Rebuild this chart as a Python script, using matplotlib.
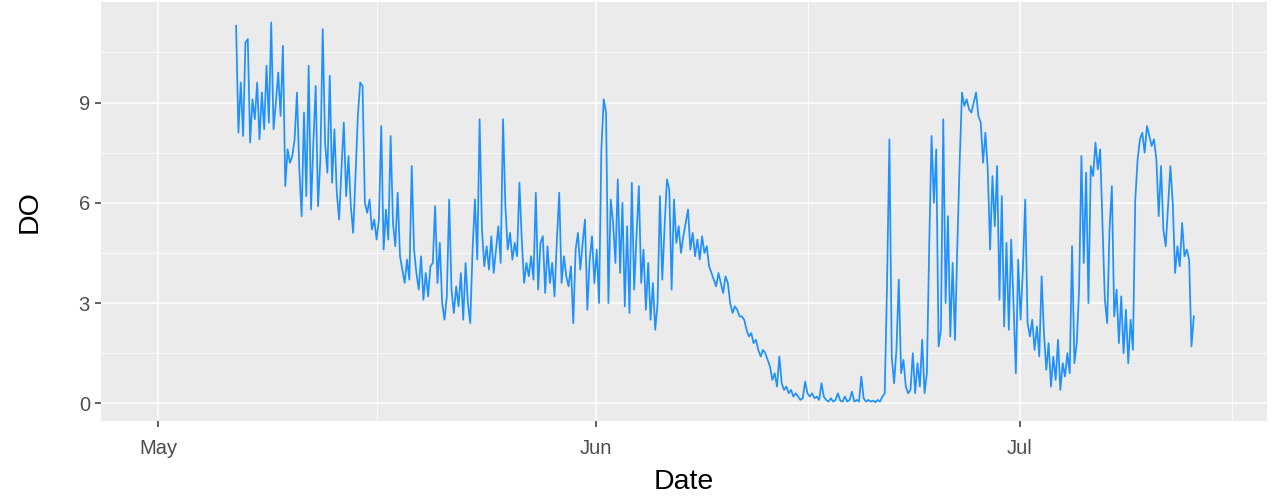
import numpy as np
import pandas as pd
import matplotlib
matplotlib.use("Agg")
import matplotlib.pyplot as plt
import matplotlib.dates as mdates

# time span of the logger record
start_time = "2019-05-06 12:30"
end_time = "2019-07-13 07:40"

# dissolved oxygen readings (about 6 per day)
do_values = [
    11.3, 8.1, 9.6, 8.0, 10.8, 10.9,
    7.8, 9.1, 8.5, 9.6, 7.9, 9.3,
    8.2, 10.1, 8.4, 11.4, 8.2, 9.0,
    9.9, 8.6, 10.7, 6.5, 7.6, 7.2,
    7.4, 7.9, 9.3, 7.0, 5.6, 8.7,
    6.2, 10.1, 5.8, 7.8, 9.5, 5.9,
    7.3, 11.2, 7.8, 6.9, 9.8, 6.6,
    8.2, 6.3, 5.5, 7.0, 8.4, 6.2,
    7.4, 5.9, 5.1, 6.8, 8.6, 9.6,
    9.5, 6.0, 5.7, 6.1, 5.2, 5.5,
    4.9, 5.5, 8.3, 4.6, 5.8, 4.9,
    8.0, 5.4, 4.7, 6.3, 4.4, 4.0,
    3.6, 4.3, 3.7, 7.1, 4.6, 3.9,
    3.4, 4.4, 3.1, 3.9, 3.2, 4.1,
    4.2, 5.9, 3.6, 4.8, 3.0, 2.5,
    3.2, 6.1, 3.4, 2.7, 3.5, 2.9,
    3.9, 2.5, 4.2, 3.0, 2.4, 4.6,
    6.1, 4.3, 8.5, 5.2, 4.1, 4.7,
    4.0, 5.0, 3.9, 4.6, 5.3, 4.2,
    8.5, 5.9, 4.6, 5.1, 4.3, 4.8,
    4.4, 6.6, 4.9, 3.6, 4.2, 3.8,
    4.4, 3.7, 6.3, 3.4, 4.8, 5.0,
    3.3, 4.7, 3.6, 4.2, 3.2, 4.9,
    6.3, 3.6, 4.4, 3.8, 3.5, 4.1,
    2.4, 4.6, 5.1, 4.0, 4.8, 5.5,
    2.8, 4.3, 5.0, 3.6, 4.6, 3.0,
    7.6, 9.1, 8.7, 3.0, 6.1, 5.4,
    4.2, 6.7, 3.9, 6.0, 2.9, 5.3,
    2.7, 6.6, 3.4, 5.0, 6.5, 3.6,
    4.6, 2.8, 4.2, 2.5, 3.6, 2.2,
    3.0, 6.2, 3.7, 5.3, 6.7, 6.4,
    3.4, 6.1, 4.8, 5.3, 4.5, 5.0,
    5.4, 5.8, 4.6, 5.1, 4.4, 4.9,
    4.3, 5.0, 4.5, 4.7, 4.1, 3.9,
    3.7, 3.5, 3.9, 3.6, 3.3, 3.8,
    3.6, 3.0, 2.7, 2.9, 2.8, 2.6,
    2.6, 2.5, 2.2, 2.0, 2.1, 1.8,
    1.9, 1.6, 1.4, 1.6, 1.5, 1.3,
    1.1, 0.7, 0.9, 0.5, 1.4, 0.6,
    0.4, 0.5, 0.3, 0.4, 0.2, 0.3,
    0.2, 0.1, 0.15, 0.65, 0.3, 0.2,
    0.3, 0.15, 0.2, 0.1, 0.6, 0.2,
    0.1, 0.05, 0.15, 0.05, 0.1, 0.3,
    0.08, 0.05, 0.2, 0.05, 0.1, 0.35,
    0.05, 0.1, 0.05, 0.8, 0.15, 0.05,
    0.1, 0.05, 0.08, 0.03, 0.1, 0.05,
    0.2, 0.3, 3.6, 7.9, 1.4, 0.6,
    1.6, 3.7, 0.9, 1.3, 0.5, 0.3,
    0.4, 1.5, 0.3, 1.2, 0.5, 1.9,
    0.3, 0.9, 4.7, 8.0, 6.0, 7.6,
    1.7, 2.2, 8.5, 3.0, 5.6, 2.0,
    4.2, 1.9, 4.7, 7.2, 9.3, 8.9,
    9.1, 8.8, 8.7, 9.0, 9.3, 8.6,
    8.4, 7.2, 8.1, 7.0, 4.6, 6.8,
    5.3, 7.1, 3.1, 6.2, 2.3, 4.8,
    2.2, 4.9, 3.0, 0.9, 4.3, 2.5,
    4.0, 6.1, 2.4, 2.0, 2.5, 1.6,
    2.3, 1.4, 3.8, 2.1, 1.0, 1.8,
    0.5, 1.4, 0.7, 1.9, 0.4, 1.2,
    0.8, 1.5, 0.9, 4.7, 1.2, 1.8,
    3.4, 7.4, 4.2, 6.9, 3.0, 7.1,
    6.8, 7.8, 7.0, 7.6, 5.4, 3.1,
    2.4, 5.2, 6.5, 2.6, 3.4, 1.8,
    3.2, 1.5, 2.8, 1.2, 2.5, 1.6,
    6.1, 7.3, 7.9, 8.1, 7.5, 8.3,
    8.0, 7.7, 7.9, 7.3, 5.6, 7.1,
    5.2, 4.7, 5.9, 7.1, 6.0, 3.9,
    4.7, 4.1, 5.4, 4.4, 4.6, 4.3,
    1.7, 2.6,
]

month_ticks = ["2019-05-01 00:00", "2019-06-01 00:00", "2019-07-01 00:00"]
month_labels = ["May", "Jun", "Jul"]
minor_x = ["2019-05-16 12:00", "2019-06-16 00:00", "2019-07-16 00:00"]
y_ticks = [0, 3, 6, 9]
y_minor = [1.5, 4.5, 7.5, 10.5]

times = pd.date_range(start_time, end_time, periods=len(do_values))

plt.rcParams["font.family"] = ["Liberation Sans", "DejaVu Sans"]

W, H = 1278, 496
fig = plt.figure(figsize=(W / 100, H / 100), dpi=100)
ax = fig.add_axes([101 / W, 1 - 421 / H, (1267 - 101) / W, (421 - 2) / H])
ax.set_facecolor("#EBEBEB")
for s in ax.spines.values():
    s.set_visible(False)

ax.plot(times, do_values, color="#1E90FF", linewidth=1.25)

ax.set_xlim(pd.Timestamp("2019-04-26 23:00"), pd.Timestamp("2019-07-18 12:00"))
ax.set_ylim(-0.53, 12.01)

ax.set_xticks(mdates.date2num(pd.to_datetime(month_ticks)))
ax.set_xticklabels(month_labels)
ax.set_xticks(mdates.date2num(pd.to_datetime(minor_x)), minor=True)
ax.set_yticks(y_ticks)
ax.set_yticks(y_minor, minor=True)

ax.set_axisbelow(True)
ax.grid(which="major", color="white", linewidth=1.1)
ax.grid(which="minor", color="white", linewidth=0.55)
ax.tick_params(which="major", length=4, width=1.1, color="#333333",
               labelsize=14.5, labelcolor="#4D4D4D")
ax.tick_params(axis="x", pad=9)
ax.tick_params(axis="y", pad=4)
ax.tick_params(which="minor", length=0)

ax.set_xlabel("Date", fontsize=20.5, labelpad=8)
ax.set_ylabel("DO", fontsize=20.5, labelpad=26)

fig.savefig("out.png", dpi=100)
